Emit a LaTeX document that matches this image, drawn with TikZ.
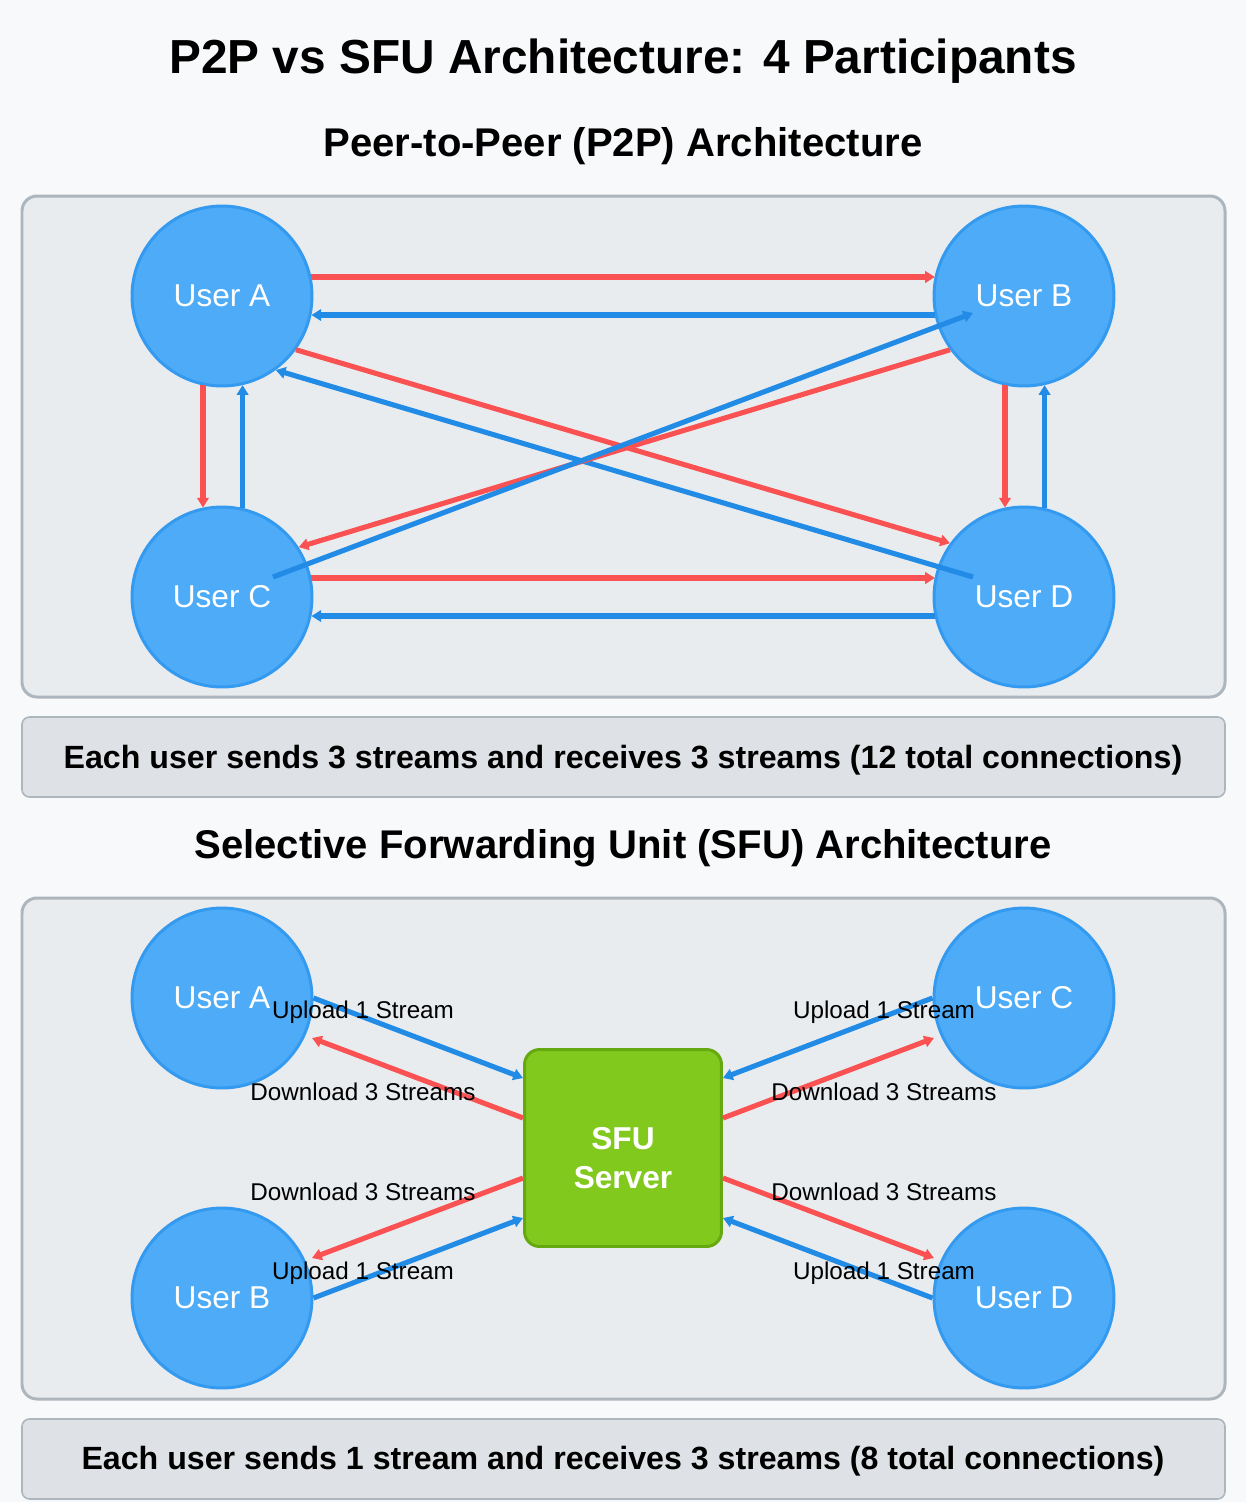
\documentclass[tikz,border=0pt]{standalone}
\usepackage{fontspec}
\setmainfont{Liberation Sans}
\usetikzlibrary{arrows.meta}

\definecolor{bgcol}{HTML}{F8F9FA}
\definecolor{panelfill}{HTML}{E9ECEF}
\definecolor{panelline}{HTML}{ADB5BD}
\definecolor{notefill}{HTML}{DEE2E6}
\definecolor{userfill}{HTML}{4DABF7}
\definecolor{userline}{HTML}{339AF0}
\definecolor{linered}{HTML}{FA5252}
\definecolor{lineblue}{HTML}{228BE6}
\definecolor{srvfill}{HTML}{82C91E}
\definecolor{srvline}{HTML}{66A80F}

\tikzset{
  user/.style={circle,draw=userline,fill=userfill,line width=1.7pt,
    minimum size=3.6cm,inner sep=0pt,text=white,font=\fontsize{18}{21}\selectfont},
  server/.style={rectangle,rounded corners=0.3cm,draw=srvline,fill=srvfill,
    line width=1.7pt,minimum size=3.94cm,text=white,align=center,
    font=\bfseries\fontsize{18}{22.7}\selectfont},
  redarrow/.style={draw=linered,line width=2.9pt,-{Triangle[length=5.5pt,width=6.5pt]}},
  bluearrow/.style={draw=lineblue,line width=2.9pt,-{Triangle[length=5.5pt,width=6.5pt]}},
  panel/.style={fill=panelfill,draw=panelline,line width=1.7pt,rounded corners=0.3cm},
  notebox/.style={fill=notefill,draw=panelline,line width=0.9pt,rounded corners=0.15cm},
  lbl/.style={font=\fontsize{13.8}{16}\selectfont},
}

\begin{document}
\begin{tikzpicture}[x=0.02cm,y=-0.02cm]

  % page and frames
  \fill[bgcol] (0,0) rectangle (1246,1502);
  \draw[panel] (22,196) rectangle (1225,697);
  \draw[notebox] (22,717) rectangle (1225,797);
  \draw[panel] (22,898) rectangle (1225,1399);
  \draw[notebox] (22,1419) rectangle (1225,1499);

  % headings
  \node[font=\bfseries\fontsize{27.2}{32}\selectfont] (title) at (623,61)
    {P2P vs SFU Architecture: 4 Participants};
  \node[font=\bfseries\fontsize{22.8}{27}\selectfont] (p2ph) at (623,146)
    {Peer-to-Peer (P2P) Architecture};
  \node[font=\bfseries\fontsize{22.8}{27}\selectfont] (sfuh) at (623,848)
    {Selective Forwarding Unit (SFU) Architecture};
  \node[font=\bfseries\fontsize{18.3}{22}\selectfont] (p2pnote) at (623,760)
    {Each user sends 3 streams and receives 3 streams (12 total connections)};
  \node[font=\bfseries\fontsize{18.3}{22}\selectfont] (sfunote) at (623,1461)
    {Each user sends 1 stream and receives 3 streams (8 total connections)};

  % peer to peer
  \begin{scope}[every node/.style={user}]
    \node (pa) at (222,296)  {User A};
    \node (pb) at (1024,296) {User B};
    \node (pc) at (222,597)  {User C};
    \node (pd) at (1024,597) {User D};
  \end{scope}

  \path (pa.12.8)   edge[redarrow]  (pa.12.8 -| pb.167.2);
  \path (pb.192.8)  edge[bluearrow] (pb.192.8 -| pa.-12.8);
  \path (pa.-102.8) edge[redarrow]  (pa.-102.8 |- pc.102.8);
  \path (pc.77.2)   edge[bluearrow] (pc.77.2 |- pa.-77.2);
  \path (pb.-102.8) edge[redarrow]  (pb.-102.8 |- pd.102.8);
  \path (pd.77.2)   edge[bluearrow] (pd.77.2 |- pb.-77.2);
  \path (pc.12.8)   edge[redarrow]  (pc.12.8 -| pd.167.2);
  \path (pd.192.8)  edge[bluearrow] (pd.192.8 -| pc.-12.8);
  \path (pa.-36)    edge[redarrow]  (pd.144);
  \path ([shift={(-51,-20)}]pd.center) edge[bluearrow] (pa.-54);
  \path (pb.216)    edge[redarrow]  (pc.33.5);
  \path ([shift={(51,-20)}]pc.center) edge[bluearrow] ([shift={(-51,17)}]pb.center);

  % forwarding unit
  \begin{scope}[every node/.style={user}]
    \node (sa) at (222,998)   {User A};
    \node (sc) at (1024,998)  {User C};
    \node (sb) at (222,1298)  {User B};
    \node (sd) at (1024,1298) {User D};
  \end{scope}
  \node[server] (srv) at (623,1148) {\rule{0pt}{24pt}SFU\\Server};

  \path (sa.east) edge[bluearrow] ([shift={(0,-70)}]srv.west);
  \path ([shift={(0,-30)}]srv.west) edge[redarrow] ([shift={(90,40)}]sa.center);
  \path ([shift={(0,30)}]srv.west)  edge[redarrow] ([shift={(90,-40)}]sb.center);
  \path (sb.east) edge[bluearrow] ([shift={(0,70)}]srv.west);
  \path (sc.west) edge[bluearrow] ([shift={(0,-70)}]srv.east);
  \path ([shift={(0,-30)}]srv.east) edge[redarrow] ([shift={(-90,40)}]sc.center);
  \path ([shift={(0,30)}]srv.east)  edge[redarrow] ([shift={(-90,-40)}]sd.center);
  \path (sd.west) edge[bluearrow] ([shift={(0,70)}]srv.east);

  \begin{scope}[every node/.style={lbl}]
    \node (aup)   at (363,1012) {Upload 1 Stream};
    \node (adown) at (363,1092) {Download 3 Streams};
    \node (bdown) at (363,1192) {Download 3 Streams};
    \node (bup)   at (363,1273) {Upload 1 Stream};
    \node (cup)   at (884,1012) {Upload 1 Stream};
    \node (cdown) at (884,1092) {Download 3 Streams};
    \node (ddown) at (884,1192) {Download 3 Streams};
    \node (dup)   at (884,1273) {Upload 1 Stream};
  \end{scope}

\end{tikzpicture}
\end{document}
